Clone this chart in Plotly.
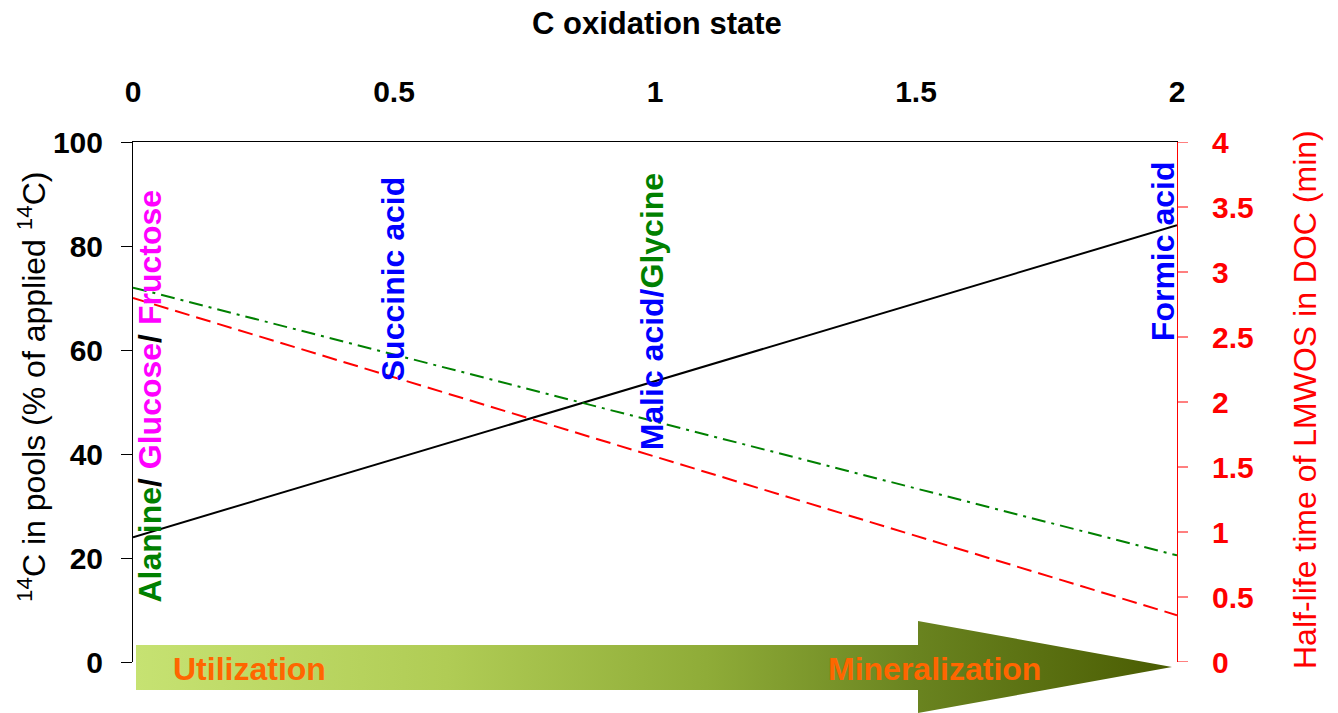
import base64
import plotly.graph_objects as go

# Oxidation-state axis (top) and regression end points
ox_state = [0, 2]
pool_14c = [24, 84]          # 14C in pools, % of applied (left axis)
pool_14c_b = [72, 20.5]      # second pool series, % of applied (left axis)
half_life = [2.8, 0.36]      # half-life of LMWOS in DOC, min (right axis)

x_ticks = [0, 0.5, 1, 1.5, 2]
left_ticks = [0, 20, 40, 60, 80, 100]
right_ticks = [0, 0.5, 1, 1.5, 2, 2.5, 3, 3.5, 4]

FONT = "Liberation Sans, Arial, sans-serif"
GREEN = "#008000"
BLUE = "#0000ff"
MAGENTA = "#ff00ff"
RED = "#ff0000"
ORANGE = "#ff6600"

fig = go.Figure()
fig.add_trace(go.Scatter(x=ox_state, y=pool_14c, mode="lines",
                         line=dict(color="black", width=2), yaxis="y"))
fig.add_trace(go.Scatter(x=ox_state, y=pool_14c_b, mode="lines",
                         line=dict(color=GREEN, width=2, dash="14px,6px,3px,6px"), yaxis="y"))
fig.add_trace(go.Scatter(x=ox_state, y=half_life, mode="lines",
                         line=dict(color=RED, width=2, dash="15px,7px"), yaxis="y2"))

# Gradient arrow: Utilization -> Mineralization
svg = """<svg xmlns='http://www.w3.org/2000/svg' width='1036' height='92' viewBox='0 0 1036 92' preserveAspectRatio='none'>
<defs><linearGradient id='g' x1='0' y1='0' x2='1036' y2='0' gradientUnits='userSpaceOnUse'>
<stop offset='0' stop-color='#c6e272'/>
<stop offset='0.3' stop-color='#b0cc55'/>
<stop offset='0.55' stop-color='#8fac38'/>
<stop offset='0.75' stop-color='#6a8420'/>
<stop offset='1' stop-color='#4a5c02'/>
</linearGradient></defs>
<polygon points='0,24 782,24 782,0 1036,46 782,92 782,69 0,69' fill='url(#g)'/>
</svg>"""
src = "data:image/svg+xml;base64," + base64.b64encode(svg.encode()).decode()
fig.add_layout_image(dict(source=src, xref="paper", yref="paper",
                          x=3 / 1044, y=41 / 520, sizex=1036 / 1044, sizey=92 / 520,
                          xanchor="left", yanchor="top", sizing="stretch", layer="above"))

# Short red tick marks on the right-hand axis
for t in right_ticks:
    fig.add_shape(type="line", xref="paper", yref="y2", x0=1, x1=1 + 11 / 1044, y0=t, y1=t,
                  line=dict(color=RED, width=1))

ann = []
def vlabel(x, y, text):
    ann.append(dict(x=x, y=y, xref="x", yref="y", text=text, textangle=-90,
                    showarrow=False, xanchor="center", yanchor="bottom",
                    font=dict(family=FONT, size=32, color=BLUE, weight="bold")))

vlabel(0.033, 11, f"<span style='color:{GREEN}'>Alanine</span><span style='color:black'>/ </span>"
                  f"<span style='color:{MAGENTA}'>Glucose</span><span style='color:black'>/ </span>"
                  f"<span style='color:{MAGENTA}'>Fructose</span>")
vlabel(0.498, 53.7, "Succinic acid")
vlabel(0.996, 40.4, f"Malic acid/<span style='color:{GREEN}'>Glycine</span>")
vlabel(1.973, 61.3, "Formic acid")

def flat(x, y, text, size, color, weight="bold", xref="x", angle=0):
    ann.append(dict(x=x, y=y, xref=xref, yref="paper", text=text, showarrow=False,
                    textangle=angle, xanchor="center", yanchor="middle",
                    font=dict(family=FONT, size=size, color=color, weight=weight)))

flat(0.224, -7 / 520, "Utilization", 32, ORANGE)
flat(1.536, -7 / 520, "Mineralization", 32, ORANGE)
flat(0.5019, 638 / 520, "C oxidation state", 31, "black", xref="paper")
flat(-101 / 1044, 275 / 520, "<sup>14</sup>C in pools (% of applied <sup>14</sup>C)",
     32, "black", weight="normal", xref="paper", angle=-90)
flat(1172 / 1044, 262 / 520, "Half-life time of LMWOS in DOC (min)",
     32, RED, weight="normal", xref="paper", angle=-90)

fig.update_layout(
    width=1338, height=713,
    margin=dict(l=133, r=161, t=142, b=51),
    paper_bgcolor="white", plot_bgcolor="white",
    showlegend=False,
    annotations=ann,
    xaxis=dict(side="top", range=[0, 2], tickvals=x_ticks, showgrid=False, zeroline=False,
               showline=True, linecolor="black", linewidth=1,
               ticks="outside", ticklen=27, tickcolor="rgba(0,0,0,0)",
               tickfont=dict(family=FONT, size=30, color="black", weight="bold")),
    yaxis=dict(range=[0, 100], tickvals=left_ticks, showgrid=False, zeroline=False,
               showline=True, linecolor="black", linewidth=1,
               ticks="outside", ticklen=11, tickcolor="black",
               ticklabelstandoff=12,
               tickfont=dict(family=FONT, size=30, color="black", weight="bold")),
    yaxis2=dict(range=[0, 4], tickvals=right_ticks, overlaying="y", side="right",
                showgrid=False, zeroline=False,
                showline=True, linecolor=RED, linewidth=1,
                ticks="outside", ticklen=28, tickcolor="rgba(0,0,0,0)",
                tickfont=dict(family=FONT, size=30, color=RED, weight="bold")),
)

fig.write_html("out.html")
